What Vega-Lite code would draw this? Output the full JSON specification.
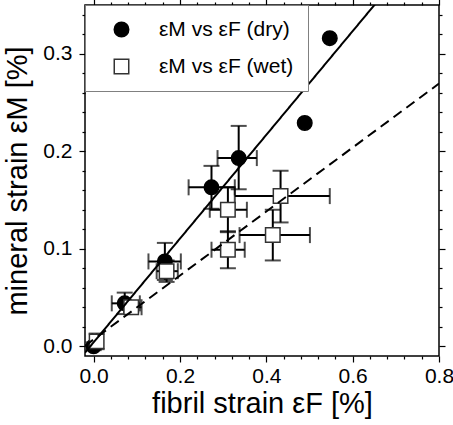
{
  "$schema": "https://vega.github.io/schema/vega-lite/v6.json",
  "width": 354,
  "height": 351,
  "autosize": {"type": "none"},
  "padding": {"left": 85, "top": 5, "right": 14, "bottom": 69},
  "config": {
    "font": "Liberation Sans",
    "view": {"stroke": "black", "strokeWidth": 1.5},
    "axis": {
      "domain": false,
      "grid": false,
      "labelFontSize": 21,
      "labelColor": "black",
      "titleFontSize": 29,
      "titleFontWeight": "normal",
      "titleColor": "black",
      "tickColor": "black",
      "tickWidth": 1.2,
      "labelOverlap": false,
      "labelFlush": false
    },
    "legend": {
      "orient": "top-left",
      "offset": 0,
      "padding": 14,
      "symbolOffset": 12,
      "labelFontSize": 21,
      "labelColor": "black",
      "labelOffset": 27,
      "rowPadding": 15,
      "strokeColor": "#808080",
      "fillColor": "white",
      "symbolSize": 210,
      "symbolStrokeWidth": 1.5
    }
  },
  "datasets": {
    "pts": [
      {"series": "εM vs εF (dry)", "x": 0.0, "y": 0.0, "xlo": null, "xhi": null, "ylo": -0.004, "yhi": 0.004},
      {"series": "εM vs εF (dry)", "x": 0.072, "y": 0.044, "xlo": 0.042, "xhi": 0.107, "ylo": 0.033, "yhi": 0.055},
      {"series": "εM vs εF (dry)", "x": 0.165, "y": 0.087, "xlo": 0.127, "xhi": 0.202, "ylo": 0.068, "yhi": 0.106},
      {"series": "εM vs εF (dry)", "x": 0.273, "y": 0.163, "xlo": 0.22, "xhi": 0.327, "ylo": 0.141, "yhi": 0.185},
      {"series": "εM vs εF (dry)", "x": 0.336, "y": 0.193, "xlo": 0.287, "xhi": 0.378, "ylo": 0.161, "yhi": 0.226},
      {"series": "εM vs εF (dry)", "x": 0.489, "y": 0.229, "xlo": null, "xhi": null, "ylo": null, "yhi": null},
      {"series": "εM vs εF (dry)", "x": 0.547, "y": 0.316, "xlo": null, "xhi": null, "ylo": null, "yhi": null},
      {"series": "εM vs εF (wet)", "x": 0.007, "y": 0.005, "xlo": -0.003, "xhi": 0.017, "ylo": -0.003, "yhi": 0.013},
      {"series": "εM vs εF (wet)", "x": 0.087, "y": 0.04, "xlo": 0.074, "xhi": 0.111, "ylo": 0.035, "yhi": 0.045},
      {"series": "εM vs εF (wet)", "x": 0.169, "y": 0.077, "xlo": 0.146, "xhi": 0.195, "ylo": 0.066, "yhi": 0.088},
      {"series": "εM vs εF (wet)", "x": 0.311, "y": 0.099, "xlo": 0.273, "xhi": 0.35, "ylo": 0.08, "yhi": 0.118},
      {"series": "εM vs εF (wet)", "x": 0.311, "y": 0.14, "xlo": 0.269, "xhi": 0.355, "ylo": 0.117, "yhi": 0.163},
      {"series": "εM vs εF (wet)", "x": 0.433, "y": 0.154, "xlo": 0.327, "xhi": 0.547, "ylo": 0.127, "yhi": 0.18},
      {"series": "εM vs εF (wet)", "x": 0.415, "y": 0.114, "xlo": 0.338, "xhi": 0.501, "ylo": 0.088, "yhi": 0.14}
    ],
    "fits": [
      {"fit": "dry", "x": -0.02, "y": -0.0066},
      {"fit": "dry", "x": 0.7, "y": 0.3764},
      {"fit": "wet", "x": -0.02, "y": 0.0004},
      {"fit": "wet", "x": 0.8, "y": 0.2694}
    ]
  },
  "layer": [
    {
      "data": {"name": "pts"},
      "transform": [{"filter": "datum.xlo != null"}],
      "mark": {"type": "errorbar", "ticks": true, "thickness": 2, "size": 16, "color": "black"},
      "encoding": {
        "x": {"field": "xlo", "type": "quantitative", "scale": {"domain": [-0.02, 0.8], "nice": false, "zero": false},
          "axis": {
            "orient": "bottom",
            "title": "fibril strain εF [%]",
            "titlePadding": 3,
            "labelPadding": 3,
            "values": [0, 0.04, 0.08, 0.12, 0.16, 0.2, 0.24, 0.28, 0.32, 0.36, 0.4, 0.44, 0.48, 0.52, 0.56, 0.6, 0.64, 0.68, 0.72, 0.76, 0.8],
            "labelExpr": "abs(datum.value*5 - round(datum.value*5)) < 0.001 ? format(datum.value, '.1f') : ''",
            "tickSize": {"condition": {"test": "abs(datum.value*5 - round(datum.value*5)) < 0.001", "value": 6}, "value": 3}
          }},
        "x2": {"field": "xhi"},
        "y": {"field": "y", "type": "quantitative", "scale": {"domain": [-0.01, 0.35], "nice": false, "zero": false},
          "axis": {
            "orient": "left",
            "title": "mineral strain εM [%]",
            "titlePadding": 10,
            "labelPadding": 7,
            "values": [0, 0.02, 0.04, 0.06, 0.08, 0.1, 0.12, 0.14, 0.16, 0.18, 0.2, 0.22, 0.24, 0.26, 0.28, 0.3, 0.32, 0.34],
            "labelExpr": "abs(datum.value*10 - round(datum.value*10)) < 0.001 ? format(datum.value, '.1f') : ''",
            "tickSize": {"condition": {"test": "abs(datum.value*10 - round(datum.value*10)) < 0.001", "value": 6}, "value": 3}
          }}
      }
    },
    {
      "data": {"name": "pts"},
      "transform": [{"filter": "datum.ylo != null"}],
      "mark": {"type": "errorbar", "ticks": true, "thickness": 2, "size": 16, "color": "black"},
      "encoding": {
        "x": {"field": "x", "type": "quantitative", "axis": {
            "orient": "top",
            "title": null,
            "labels": false,
            "values": [0, 0.04, 0.08, 0.12, 0.16, 0.2, 0.24, 0.28, 0.32, 0.36, 0.4, 0.44, 0.48, 0.52, 0.56, 0.6, 0.64, 0.68, 0.72, 0.76, 0.8],
            "tickSize": {"condition": {"test": "abs(datum.value*5 - round(datum.value*5)) < 0.001", "value": 6}, "value": 3}
          }},
        "y": {"field": "ylo", "type": "quantitative", "axis": {
            "orient": "right",
            "title": null,
            "labels": false,
            "values": [0, 0.02, 0.04, 0.06, 0.08, 0.1, 0.12, 0.14, 0.16, 0.18, 0.2, 0.22, 0.24, 0.26, 0.28, 0.3, 0.32, 0.34],
            "tickSize": {"condition": {"test": "abs(datum.value*10 - round(datum.value*10)) < 0.001", "value": 6}, "value": 3}
          }},
        "y2": {"field": "yhi"}
      }
    },
    {
      "data": {"name": "pts"},
      "mark": {"type": "point", "filled": true, "size": 210, "strokeWidth": 1.5, "opacity": 1},
      "encoding": {
        "x": {"field": "x", "type": "quantitative", "axis": null},
        "y": {"field": "y", "type": "quantitative", "axis": null},
        "shape": {"field": "series", "type": "nominal", "title": null,
          "scale": {"domain": ["εM vs εF (dry)", "εM vs εF (wet)"], "range": ["circle", "square"]}},
        "fill": {"field": "series", "type": "nominal", "title": null,
          "scale": {"domain": ["εM vs εF (dry)", "εM vs εF (wet)"], "range": ["black", "white"]}},
        "stroke": {"field": "series", "type": "nominal", "title": null,
          "scale": {"domain": ["εM vs εF (dry)", "εM vs εF (wet)"], "range": ["black", "#333333"]}}
      }
    },
    {
      "data": {"name": "fits"},
      "mark": {"type": "line", "clip": true, "color": "black", "strokeWidth": 2},
      "encoding": {
        "x": {"field": "x", "type": "quantitative", "axis": null},
        "y": {"field": "y", "type": "quantitative", "axis": null},
        "detail": {"field": "fit", "type": "nominal"},
        "strokeDash": {"field": "fit", "type": "nominal", "legend": null,
          "scale": {"domain": ["dry", "wet"], "range": [[1, 0], [10, 6]]}}
      }
    }
  ],
  "resolve": {"axis": {"x": "independent", "y": "independent"}}
}
